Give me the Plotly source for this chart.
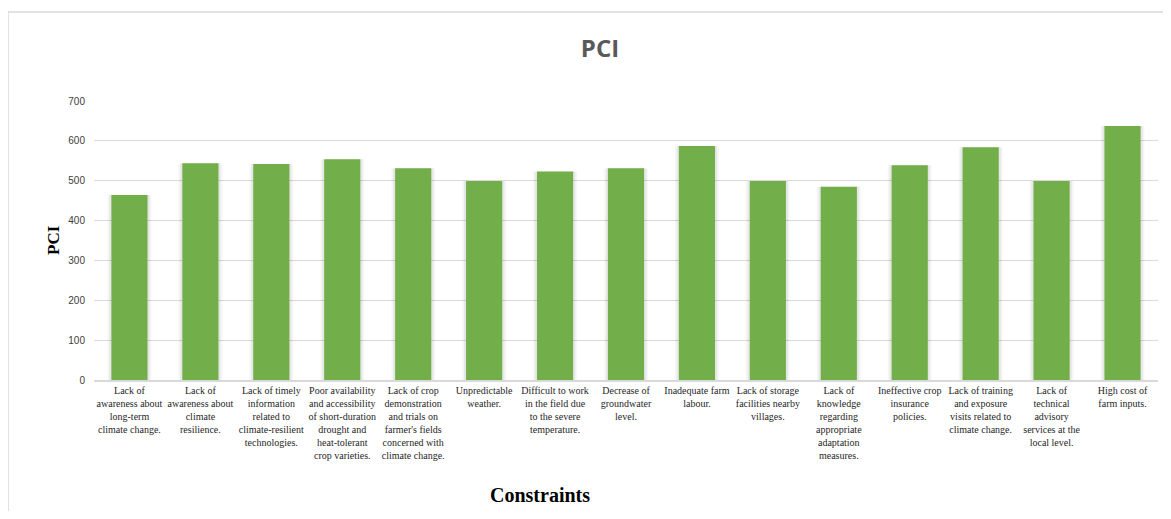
import plotly.graph_objects as go

categories = [
    "Lack of<br>awareness about<br>long-term<br>climate change.",
    "Lack of<br>awareness about<br>climate<br>resilience.",
    "Lack of timely<br>information<br>related to<br>climate-resilient<br>technologies.",
    "Poor availability<br>and accessibility<br>of short-duration<br>drought and<br>heat-tolerant<br>crop varieties.",
    "Lack of crop<br>demonstration<br>and trials on<br>farmer's fields<br>concerned with<br>climate change.",
    "Unpredictable<br>weather.",
    "Difficult to work<br>in the field due<br>to the severe<br>temperature.",
    "Decrease of<br>groundwater<br>level.",
    "Inadequate farm<br>labour.",
    "Lack of storage<br>facilities nearby<br>villages.",
    "Lack of<br>knowledge<br>regarding<br>appropriate<br>adaptation<br>measures.",
    "Ineffective crop<br>insurance<br>policies.",
    "Lack of training<br>and exposure<br>visits related to<br>climate change.",
    "Lack of<br>technical<br>advisory<br>services at the<br>local level.",
    "High cost of<br>farm inputs.",
]
pci_values = [464, 544, 542, 554, 531, 499, 523, 531, 587, 499, 485, 539, 584, 499, 637]
y_ticks = [0, 100, 200, 300, 400, 500, 600, 700]

W, H = 1155, 503
L, R, T, B = 86, 5, 93, 131
pw, ph = W - L - R, H - T - B

fig = go.Figure()
# soft shadow layers
fig.add_trace(go.Bar(x=categories, y=pci_values, width=0.62,
                     marker=dict(color="rgba(0,0,0,0.035)", line=dict(width=0)),
                     hoverinfo="skip", showlegend=False))
fig.add_trace(go.Bar(x=categories, y=pci_values, width=0.57,
                     marker=dict(color="rgba(0,0,0,0.06)", line=dict(width=0)),
                     hoverinfo="skip", showlegend=False))
fig.add_trace(go.Bar(x=categories, y=pci_values, width=0.51,
                     marker=dict(color="#72ae4a", line=dict(width=0)),
                     name="PCI", showlegend=False))

fig.update_layout(
    width=W, height=H,
    margin=dict(l=L, r=R, t=T, b=B, pad=0),
    paper_bgcolor="white", plot_bgcolor="white",
    barmode="overlay",
    title=dict(text="<b>PCI</b>", x=592 / W, xanchor="center",
               y=1 - 41 / H, yanchor="middle", yref="container",
               font=dict(family="Open Sans", size=24, color="#595959")),
    xaxis=dict(tickfont=dict(family="Liberation Serif", size=10, color="#262626"),
               showline=True, linecolor="#d9d9d9", linewidth=1.5,
               ticks="", tickangle=0, showgrid=False),
    yaxis=dict(range=[0, 700], tickvals=y_ticks,
               tickfont=dict(family="Liberation Sans", size=10, color="#404040"),
               showgrid=True, gridcolor="#d9d9d9", gridwidth=1,
               zeroline=False, showline=False, ticks="", ticklabelstandoff=8),
    font=dict(family="Liberation Serif"),
)

fig.add_annotation(text="<b>PCI</b>", xref="paper", yref="paper",
                   x=(45 - L) / pw, y=(372 - 232) / ph, textangle=-90,
                   showarrow=False, xanchor="center", yanchor="middle",
                   font=dict(family="Liberation Serif", size=17, color="#000000"))
fig.add_annotation(text="<b>Constraints</b>", xref="paper", yref="paper",
                   x=(532 - L) / pw, y=(372 - 487) / ph,
                   showarrow=False, xanchor="center", yanchor="middle",
                   font=dict(family="Liberation Serif", size=20, color="#000000"))

# chart frame (left and top edges)
fig.add_shape(type="line", xref="paper", yref="paper",
              x0=(0 - L) / pw, x1=(0 - L) / pw, y0=(372 - 4) / ph, y1=(372 - H) / ph,
              line=dict(color="#d9d9d9", width=1.5))
fig.add_shape(type="line", xref="paper", yref="paper",
              x0=(0 - L) / pw, x1=(W - L) / pw, y0=(372 - 4) / ph, y1=(372 - 4) / ph,
              line=dict(color="#d9d9d9", width=1.5))

fig.write_html("out.html")
